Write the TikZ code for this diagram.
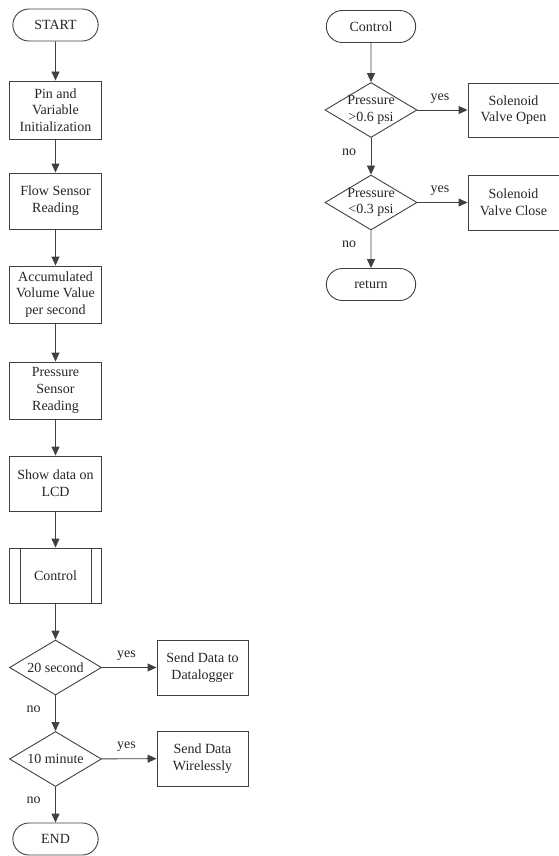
\documentclass[tikz,border=0pt]{standalone}
\usepackage{fontspec}
\setmainfont{Liberation Serif}
\usetikzlibrary{arrows.meta,shapes.geometric,shapes.misc}

\begin{document}
\begin{tikzpicture}[x=1pt,y=-1pt,
    font=\fontsize{14}{16.7}\selectfont,
    every node/.style={text=black!85},
    line/.style={line width=0.9pt,draw=black!75},
    terminal/.style={line,rounded rectangle,minimum width=92pt,minimum height=32pt},
    process/.style={line,rectangle,align=center,minimum width=92pt,minimum height=56pt,inner sep=1pt},
    decision/.style={line,diamond,minimum width=92pt,minimum height=55pt,inner sep=0pt},
    flow/.style={line,-{Triangle[length=9pt,width=8pt]}},
    yeslbl/.style={above=3pt,pos=0.45},
    nolbl/.style={left=11pt,pos=0.38}]
  \useasboundingbox (0,0) rectangle (559,856);

  \node[terminal] (start) at (55.5,25) {START};
  \node[process,minimum height=58pt] (init)      at (55.5,110)   {Pin and\\Variable\\Initialization};
  \node[process]                     (flowread)  at (55.5,201)   {Flow Sensor\\Reading};
  \node[process,minimum height=57pt] (volume)    at (55.5,294.5) {Accumulated\\Volume Value\\per second};
  \node[process,minimum height=57pt] (pressread) at (55.5,390.5) {Pressure\\Sensor\\Reading};
  \node[process,minimum height=55pt] (lcd)       at (55.5,483.5) {Show data on\\LCD};
  \node[process,minimum height=55pt] (control)   at (55.5,575.5) {Control};
  \draw[line] ([xshift=11pt]control.north west) -- ([xshift=11pt]control.south west);
  \draw[line] ([xshift=-11pt]control.north east) -- ([xshift=-11pt]control.south east);
  \node[decision,label=center:20 second] (sec) at (55.5,667.5) {};
  \node[process,minimum width=91pt,minimum height=55pt] (logger) at (202.5,667.5) {Send Data to\\Datalogger};
  \node[decision,label=center:10 minute] (min) at (55.5,759)   {};
  \node[process,minimum width=91pt,minimum height=55pt] (wireless) at (202.5,758.5) {Send Data\\Wirelessly};
  \node[terminal] (end) at (55.5,839) {END};

  \foreach \a/\b in {start/init,init/flowread,flowread/volume,volume/pressread,pressread/lcd,lcd/control,control/sec}
    \draw[flow] (\a) -- (\b);
  \draw[flow] (sec) -- node[yeslbl] (yes1) {yes} (logger);
  \draw[flow] (sec) -- node[nolbl]  (no1)  {no}  (min);
  \draw[flow] (min) -- node[yeslbl] (yes2) {yes} (wireless);
  \draw[flow] (min) -- node[nolbl]  (no2)  {no}  (end);

  \node[terminal,minimum width=96pt] (ctrlstart) at (371,26.5) {Control};
  \node[decision,label={[align=center]center:Pressure\\>0.6 psi}] (high) at (371,110) {};
  \node[process,minimum width=91pt,minimum height=54pt] (open) at (513.5,110) {Solenoid\\Valve Open};
  \node[decision,label={[align=center]center:Pressure\\<0.3 psi}] (low) at (371,202.5) {};
  \node[process,minimum width=91pt,minimum height=55pt] (close) at (513.5,202.5) {Solenoid\\Valve Close};
  \node[terminal,minimum width=96pt] (ret) at (371,284.5) {return};

  \draw[flow] (ctrlstart) -- (high);
  \draw[flow] (high) -- node[yeslbl] (yes3) {yes} (open);
  \draw[flow] (high) -- node[nolbl]  (no3)  {no}  (low);
  \draw[flow] (low)  -- node[yeslbl] (yes4) {yes} (close);
  \draw[flow] (low)  -- node[nolbl]  (no4)  {no}  (ret);
\end{tikzpicture}
\end{document}
